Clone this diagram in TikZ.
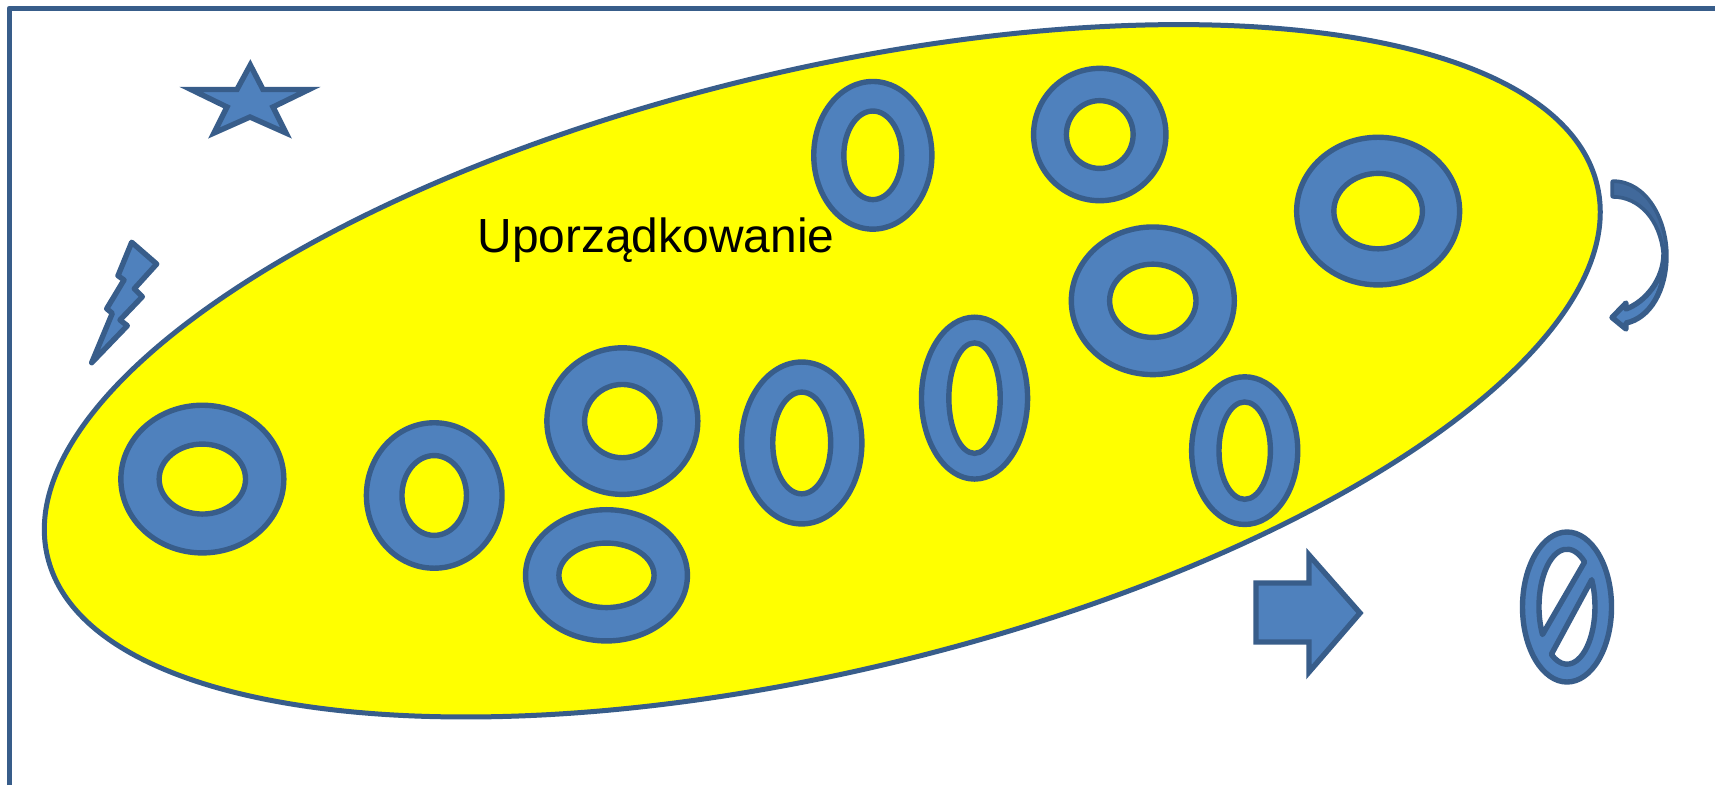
\documentclass[tikz,border=0pt]{standalone}
\usepackage{fontspec}
\setmainfont{Liberation Sans}
\definecolor{shapefill}{HTML}{4F81BD}
\definecolor{shapeline}{HTML}{385D8A}
\definecolor{darkfill}{HTML}{41699B}
\definecolor{bigyellow}{RGB}{255,255,0}
\tikzset{
  shapestyle/.style={fill=shapefill,draw=shapeline,line width=5.4pt,miter limit=10},
  ringstyle/.style={fill=shapefill,draw=shapeline,line width=5.4pt,even odd rule},
}
\newcommand{\ring}[6]{%
  \path[ringstyle] (#1,#2) circle[x radius=#3,y radius=#4] (#1,#2) circle[x radius=#5,y radius=#6];}
\begin{document}
\begin{tikzpicture}[x=1pt,y=-1pt]
\useasboundingbox (0,0) rectangle (1715,785);
\fill[white] (0,0) rectangle (1715,785);
\draw[draw=shapeline,line width=5.4pt,line join=round] (9.3,785) -- (9.3,8.3) -- (1715,8.3);
\begin{scope}[scale=1.09375]
\path[fill=bigyellow,draw=shapeline,line width=5pt,shift={(751.8,339)},rotate=13.5] (0,0) circle[x radius=728.5,y radius=274.5];
\ring{185}{438}{74.5}{67.5}{39.5}{32}
\ring{397}{453}{62}{66.5}{29.5}{36.5}
\ring{569}{385}{69}{67}{34.5}{33.5}
\ring{554.5}{526}{74}{60}{43.5}{29.5}
\ring{733}{405}{55}{74}{26.5}{46.5}
\ring{891}{364}{48.5}{74}{23.5}{50.5}
\ring{798}{142}{54}{67.5}{26.5}{40.5}
\ring{1005.5}{123}{60.5}{60.5}{30.5}{31}
\ring{1054}{275}{74.5}{67.5}{39.5}{33.5}
\ring{1260}{193}{74.5}{67.5}{40.5}{34.5}
\ring{1138}{412}{48.5}{67.5}{23.5}{44.5}
\end{scope}
\node[anchor=base,inner sep=0pt,font=\fontsize{47.9}{50}\selectfont] (label) at (656,252) {Uporządkowanie};
% star
\path[shapestyle] (250.3,65) -- (263,89.5) -- (309,89.5) -- (273,107) -- (286,133) -- (250,117) -- (214,133) -- (227,107) -- (191,89.5) -- (237,89.5) -- cycle;
% lightning
\path[shapestyle,line join=round] (131.7,242.3) -- (156.7,264) -- (134.3,288.7) -- (142.3,296.7) -- (120,320) -- (127.3,325.7) -- (91.7,362.7) -- (112.3,313.3) -- (106.7,308.7) -- (124,280) -- (118,275.7) -- cycle;
% block arrow
\path[shapestyle] (1256,583) -- (1309,583) -- (1309,555) -- (1360,613) -- (1309,672) -- (1309,642) -- (1256,642) -- cycle;
% prohibited sign
\path[ringstyle,line join=round] (1567,607) circle[x radius=44.5,y radius=75]
  (1584.6,562) arc[start angle=-51,end angle=-209,x radius=28,y radius=57.5] -- cycle
  (1591.7,579.7) arc[start angle=-28,end angle=124,x radius=28,y radius=57.5] -- cycle;
% curved arrow
\path[fill=shapefill,draw=shapeline,line width=5.4pt,line join=round]
  (1613,182) .. controls (1646,182) and (1666,220) .. (1666,256)
  .. controls (1666,290) and (1650,318) .. (1626,323) -- (1626,329) -- (1612,317.5) -- (1626,303) -- (1626,309)
  .. controls (1645,302) and (1664,280) .. (1664,253)
  .. controls (1661,220) and (1640,196) .. (1613,196) -- cycle;
\path[fill=darkfill,draw=shapeline,line width=2pt,line join=round]
  (1613,182) .. controls (1646,182) and (1666,220) .. (1666,256)
  .. controls (1666,275) and (1661,290) .. (1655,298)
  .. controls (1661,285) and (1664,270) .. (1664,253)
  .. controls (1661,220) and (1640,196) .. (1613,196) -- cycle;
\end{tikzpicture}
\end{document}
